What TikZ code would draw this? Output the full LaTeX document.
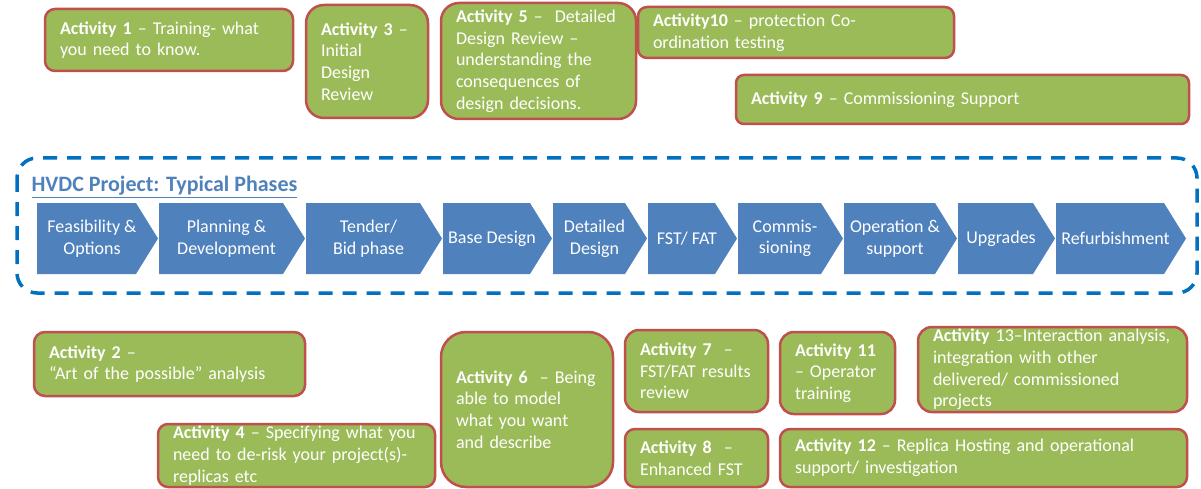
\documentclass[tikz,border=0pt]{standalone}
\usepackage{fontspec}
\setmainfont{Carlito}
\definecolor{actgreen}{HTML}{9BBB59}
\definecolor{actred}{HTML}{C0504D}
\definecolor{phaseblue}{HTML}{4F81BD}
\definecolor{frameblue}{HTML}{0070C0}
\begin{document}
\begin{tikzpicture}[x=1pt, y=-1pt,
    act/.style={draw=actred, line width=2.5pt, fill=actgreen, text=white, align=left,
        inner xsep=15pt, inner ysep=0pt, font=\fontsize{18}{21.7}\selectfont},
    phase/.style={text=white, align=center, font=\fontsize{18}{21.7}\selectfont}]
    \useasboundingbox (0,0) rectangle (1201,489);

    % Activities above the phases
    \node[act, rounded corners=10pt, text width=218pt, minimum width=248pt, minimum height=62pt] (act1) at (169,40)
        {\textbf{Activity 1} -- Training- what\\you need to know.};
    \node[act, rounded corners=18pt, text width=92pt, minimum width=122pt, minimum height=113pt] (act3) at (367,61.5)
        {\textbf{Activity 3} --\\Initial\\Design\\Review};
    \node[act, rounded corners=18pt, text width=165pt, minimum width=195pt, minimum height=116pt] (act5) at (538.5,61)
        {\textbf{Activity 5} --~ Detailed\\Design Review --\\understanding the\\consequences of\\design decisions.};
    \node[act, rounded corners=9pt, text width=286pt, minimum width=316pt, minimum height=51pt] (act10) at (796,32.5)
        {\textbf{Activity10} -- protection Co-\\ordination testing};
    \node[act, rounded corners=8pt, text width=423pt, minimum width=453pt, minimum height=49pt] (act9) at (962.5,99.5)
        {\textbf{Activity 9} -- Commissioning Support};

    % Phases
    \draw[frameblue, line width=3.5pt, dash pattern=on 14pt off 10pt, rounded corners=20pt] (17,158) rectangle (1197,293);
    \node[anchor=base west, text=phaseblue, font=\fontsize{22}{26}\selectfont\bfseries] (title) at (28,192)
        {\underline{HVDC Project: Typical Phases}};
    \foreach \xa/\xb/\txt [count=\i] in {37/158/{Feasibility \&\\Options}, 159/305/{Planning \&\\Development},
        306/442/{Tender/\\Bid phase}, 443/552/{Base Design}, 553/647/{Detailed\\Design}, 648/737/{FST/ FAT},
        738/843/{Commis-\\sioning}, 844/957/{Operation \&\\support}, 958/1055/{Upgrades}, 1056/1186/{Refurbishment}} {
        \fill[phaseblue] (\xa,203) -- (\xb-22,203) -- (\xb,238.5) -- (\xb-22,274) -- (\xa,274) -- cycle;
        \node[phase] (ph\i) at ({(\xa+\xb-11)/2},238.5) {\txt};
    }

    % Activities below the phases
    \node[act, rounded corners=11pt, text width=241pt, minimum width=271pt, minimum height=64pt] (act2) at (169.5,364)
        {\textbf{Activity 2} --\\``Art of the possible'' analysis};
    \node[act, rounded corners=10pt, text width=247pt, minimum width=277pt, minimum height=63pt] (act4) at (296.5,455.5)
        {\textbf{Activity 4} -- Specifying what you\\need to de-risk your project(s)-\\replicas etc};
    \node[act, rounded corners=25pt, text width=142pt, minimum width=172pt, minimum height=155pt] (act6) at (527,409.5)
        {\textbf{Activity 6}~ -- Being\\able to model\\what you want\\and describe};
    \node[act, rounded corners=14pt, text width=113pt, minimum width=143pt, minimum height=82pt] (act7) at (696.5,371)
        {\textbf{Activity 7}~ --\\FST/FAT results\\review};
    \node[act, rounded corners=10pt, text width=113pt, minimum width=143pt, minimum height=58pt] (act8) at (696.5,458)
        {\textbf{Activity 8}~ --\\Enhanced FST};
    \node[act, rounded corners=14pt, text width=85pt, minimum width=115pt, minimum height=82pt] (act11) at (837.5,373)
        {\textbf{Activity 11}\\-- Operator\\training};
    \node[act, rounded corners=14pt, text width=239pt, minimum width=269pt, minimum height=85pt] (act13) at (1052.5,369.5)
        {\textbf{Activity} 13--Interaction analysis,\\integration with other\\delivered/ commissioned\\projects};
    \node[act, rounded corners=10pt, text width=377pt, minimum width=407pt, minimum height=58pt] (act12) at (983.5,458)
        {\textbf{Activity 12} -- Replica Hosting and operational\\support/ investigation};
\end{tikzpicture}
\end{document}
